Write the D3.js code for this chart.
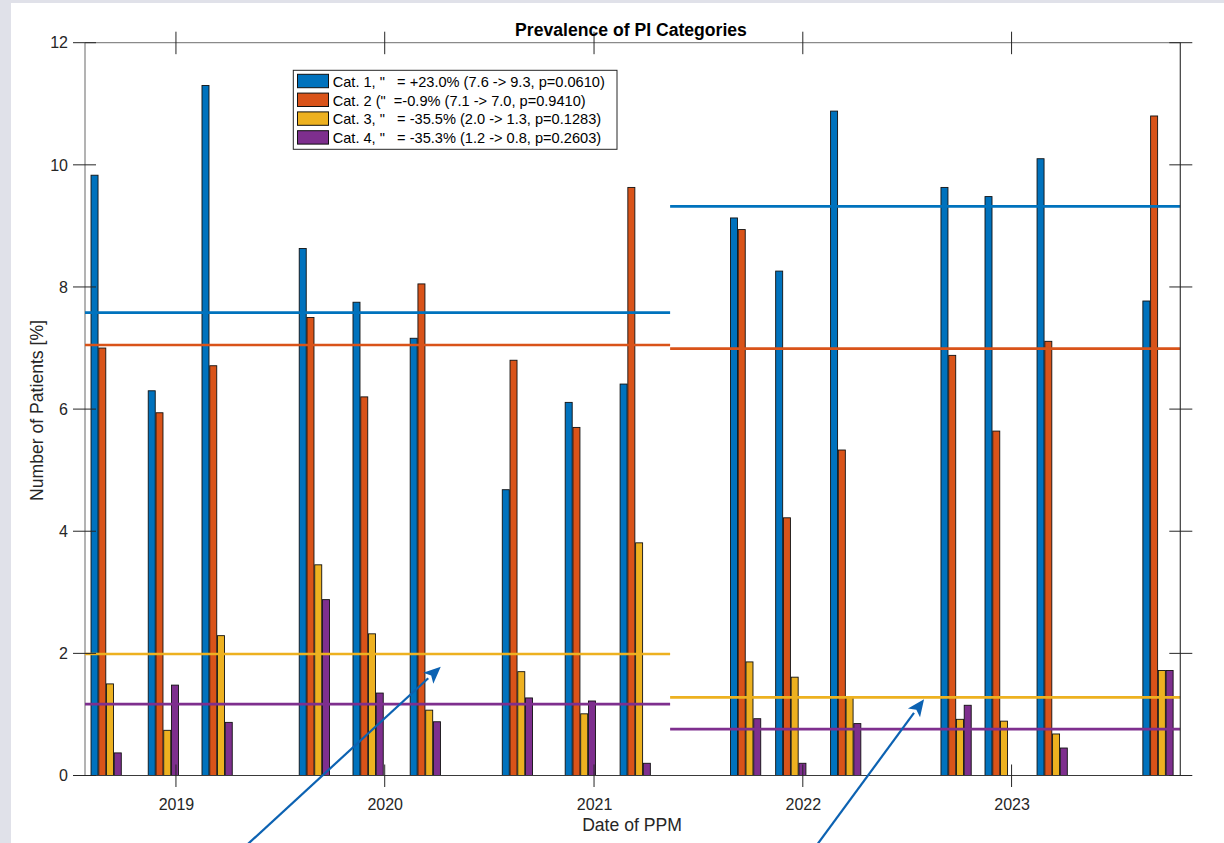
<!DOCTYPE html>
<html>
<head>
<meta charset="utf-8">
<script src="https://cdn.jsdelivr.net/npm/d3@7"></script>
<style>
  html, body { margin: 0; padding: 0; background: #e0e1e9; }
  svg { display: block; }
  text { font-family: "Liberation Sans", Arial, Helvetica, sans-serif; }
</style>
</head>
<body>
<svg id="chart" width="1224" height="843"></svg>
<script>
// ---------------- data ----------------
const dates = ["2018-09-01","2018-12-10","2019-03-14","2019-08-31","2019-12-03","2020-03-12",
               "2020-08-20","2020-12-08","2021-03-14","2021-09-23","2021-12-11","2022-03-17",
               "2022-09-26","2022-12-12","2023-03-13","2023-09-14"];
const cat1 = [9.83, 6.30, 11.30, 8.63, 7.75, 7.16, 4.68, 6.11, 6.41, 9.13, 8.26, 10.88, 9.63, 9.48, 10.10, 7.77];
const cat2 = [7.00, 5.94, 6.71, 7.50, 6.20, 8.05, 6.80, 5.70, 9.63, 8.94, 4.22, 5.33, 6.88, 5.64, 7.11, 10.80];
const cat3 = [1.50, 0.74, 2.29, 3.45, 2.32, 1.07, 1.70, 1.01, 3.81, 1.86, 1.61, 1.28, 0.92, 0.89, 0.68, 1.72];
const cat4 = [0.37, 1.48, 0.87, 2.88, 1.35, 0.88, 1.27, 1.22, 0.20, 0.93, 0.20, 0.85, 1.15, 0.00, 0.45, 1.72];
const seriesNames = ["Cat. 1", "Cat. 2", "Cat. 3", "Cat. 4"];
const legendLabels = [
  'Cat. 1, "   = +23.0% (7.6 -> 9.3, p=0.0610)',
  'Cat. 2 ("  =-0.9% (7.1 -> 7.0, p=0.9410)',
  'Cat. 3, "   = -35.5% (2.0 -> 1.3, p=0.1283)',
  'Cat. 4, "   = -35.3% (1.2 -> 0.8, p=0.2603)'
];
// period means (before / after split date)
const periodStart = ["2018-07-26", "2021-05-14"];
const periodEnd   = ["2021-05-14", "2023-10-23"];
const meanBefore = [7.58, 7.05, 1.99, 1.17];
const meanAfter  = [9.32, 6.99, 1.28, 0.76];
const yTicks = [0, 2, 4, 6, 8, 10, 12];
const xTickYears = ["2019", "2020", "2021", "2022", "2023"];
const xDomain = ["2018-07-26", "2023-10-23"];
// annotation arrows: [tail date, tail value, head date, head value]
const arrows = [
  ["2019-05-07", -1.12, "2020-04-08", 1.78],
  ["2022-01-27", -1.12, "2022-08-01", 1.25]
];

// ---------------- layout ----------------
const colors = ["#0072BD", "#D95319", "#EDB120", "#7E2F8E"];
const M = { left: 85, right: 1180.3, top: 42.7, bottom: 775.5 };
const parse = d3.timeParse("%Y-%m-%d");
const svg = d3.select("#chart");

// white figure background
svg.append("rect").attr("x", 11).attr("y", 3).attr("width", 1224 - 11).attr("height", 843 - 3).attr("fill", "#ffffff");

const x = d3.scaleTime().domain(xDomain.map(parse)).range([M.left, M.right]);
const y = d3.scaleLinear().domain([0, 12]).range([M.bottom, M.top]);

const series = [cat1, cat2, cat3, cat4];
const barPitch = 7.75, barW = 7.0;
const offsets = d3.scaleBand().domain(d3.range(4)).range([-2 * barPitch, 2 * barPitch]);

// axes box lines (lighter left/top)
svg.append("line").attr("x1", M.left).attr("x2", M.left).attr("y1", M.top).attr("y2", M.bottom)
  .attr("stroke", "#8a8a8a").attr("stroke-width", 1.3);
svg.append("line").attr("x1", M.left).attr("x2", M.right).attr("y1", M.top).attr("y2", M.top)
  .attr("stroke", "#8a8a8a").attr("stroke-width", 1.3);

// bars
const plot = svg.append("g");
series.forEach((vals, si) => {
  plot.append("g").selectAll("rect").data(dates.map((d, i) => ({ d: parse(d), v: vals[i] })))
    .join("rect")
    .attr("x", d => x(d.d) + offsets(si) + (barPitch - barW) / 2)
    .attr("y", d => y(d.v))
    .attr("width", barW)
    .attr("height", d => y(0) - y(d.v))
    .attr("fill", colors[si])
    .attr("stroke", "#111")
    .attr("stroke-width", 0.9);
});

// mean lines
[meanBefore, meanAfter].forEach((means, pi) => {
  means.forEach((m, si) => {
    svg.append("line")
      .attr("x1", x(parse(periodStart[pi]))).attr("x2", x(parse(periodEnd[pi])))
      .attr("y1", y(m)).attr("y2", y(m))
      .attr("stroke", colors[si]).attr("stroke-width", 2.7);
  });
});

// bottom / right lines
svg.append("line").attr("x1", M.left).attr("x2", M.right).attr("y1", M.bottom).attr("y2", M.bottom)
  .attr("stroke", "#3a3a3a").attr("stroke-width", 1.2);
svg.append("line").attr("x1", M.right).attr("x2", M.right).attr("y1", M.top).attr("y2", M.bottom)
  .attr("stroke", "#3a3a3a").attr("stroke-width", 1.2);

// y axis ticks (both directions) left and right
const gyL = svg.append("g").attr("transform", `translate(${M.left},0)`);
yTicks.forEach(t => {
  gyL.append("line").attr("x1", -12).attr("x2", 11).attr("y1", y(t)).attr("y2", y(t)).attr("stroke", "#262626").attr("stroke-width", 1);
  gyL.append("text").attr("x", -17).attr("y", y(t)).attr("dy", "0.36em").attr("text-anchor", "end")
    .attr("font-size", 16).attr("fill", "#262626").text(t);
});
const gyR = svg.append("g").attr("transform", `translate(${M.right},0)`);
yTicks.forEach(t => {
  gyR.append("line").attr("x1", -11).attr("x2", 12).attr("y1", y(t)).attr("y2", y(t)).attr("stroke", "#262626").attr("stroke-width", 1);
});

// x axis ticks (years) bottom & top
const yearDates = xTickYears.map(s => parse(s + "-01-01"));
const xAxis = d3.axisBottom(x).tickValues(yearDates).tickFormat(d3.timeFormat("%Y")).tickSize(0);
const gx = svg.append("g").attr("transform", `translate(0,${M.bottom})`).call(xAxis);
gx.select(".domain").remove();
gx.selectAll("text").attr("font-size", 16).attr("fill", "#262626").attr("dy", 0).attr("y", 34)
  .style("font-family", '"Liberation Sans", Arial, sans-serif');
yearDates.forEach(d => {
  svg.append("line").attr("x1", x(d)).attr("x2", x(d)).attr("y1", M.bottom - 11).attr("y2", M.bottom + 11.5)
    .attr("stroke", "#262626").attr("stroke-width", 1);
  svg.append("line").attr("x1", x(d)).attr("x2", x(d)).attr("y1", M.top - 11).attr("y2", M.top + 11.5)
    .attr("stroke", "#262626").attr("stroke-width", 1);
});

// labels
svg.append("text").attr("x", 631).attr("y", 36).attr("text-anchor", "middle")
  .attr("font-size", 17.6).attr("font-weight", "bold").attr("fill", "#000").text("Prevalence of PI Categories");
svg.append("text").attr("x", 632).attr("y", 831).attr("text-anchor", "middle")
  .attr("font-size", 17.6).attr("fill", "#262626").text("Date of PPM");
svg.append("text").attr("transform", "translate(42.7,410.5) rotate(-90)").attr("text-anchor", "middle")
  .attr("font-size", 17.6).attr("fill", "#262626").text("Number of Patients [%]");

// legend
const lg = svg.append("g");
lg.append("rect").attr("x", 293.3).attr("y", 70.3).attr("width", 617 - 293.3).attr("height", 149.3 - 70.3)
  .attr("fill", "#fff").attr("stroke", "#262626").attr("stroke-width", 1);
legendLabels.forEach((lab, i) => {
  const cy = 81.5 + i * 18.8;
  lg.append("rect").attr("x", 297.5).attr("y", cy - 7.2).attr("width", 31).attr("height", 13.4)
    .attr("fill", colors[i]).attr("stroke", "#111").attr("stroke-width", 1);
  lg.append("text").attr("x", 332.7).attr("y", cy).attr("dy", "0.36em").attr("font-size", 14.6)
    .attr("fill", "#000").attr("xml:space", "preserve").style("white-space", "pre").text(lab);
});

// annotation arrows
const arrowColor = "#0c62b2";
arrows.forEach(a => {
  const x0 = x(parse(a[0])), y0 = y(a[1]), x1 = x(parse(a[2])), y1 = y(a[3]);
  const ang = Math.atan2(y1 - y0, x1 - x0);
  const L = 17, W = 7.5;
  const bx = x1 - L * Math.cos(ang), by = y1 - L * Math.sin(ang);
  svg.append("line").attr("x1", x0).attr("y1", y0).attr("x2", bx).attr("y2", by)
    .attr("stroke", arrowColor).attr("stroke-width", 2.2);
  const px = -Math.sin(ang), py = Math.cos(ang);
  svg.append("path")
    .attr("d", `M${x1},${y1}L${bx + W * px},${by + W * py}L${bx + 4 * Math.cos(ang)},${by + 4 * Math.sin(ang)}L${bx - W * px},${by - W * py}Z`)
    .attr("fill", arrowColor);
});
</script>
</body>
</html>
